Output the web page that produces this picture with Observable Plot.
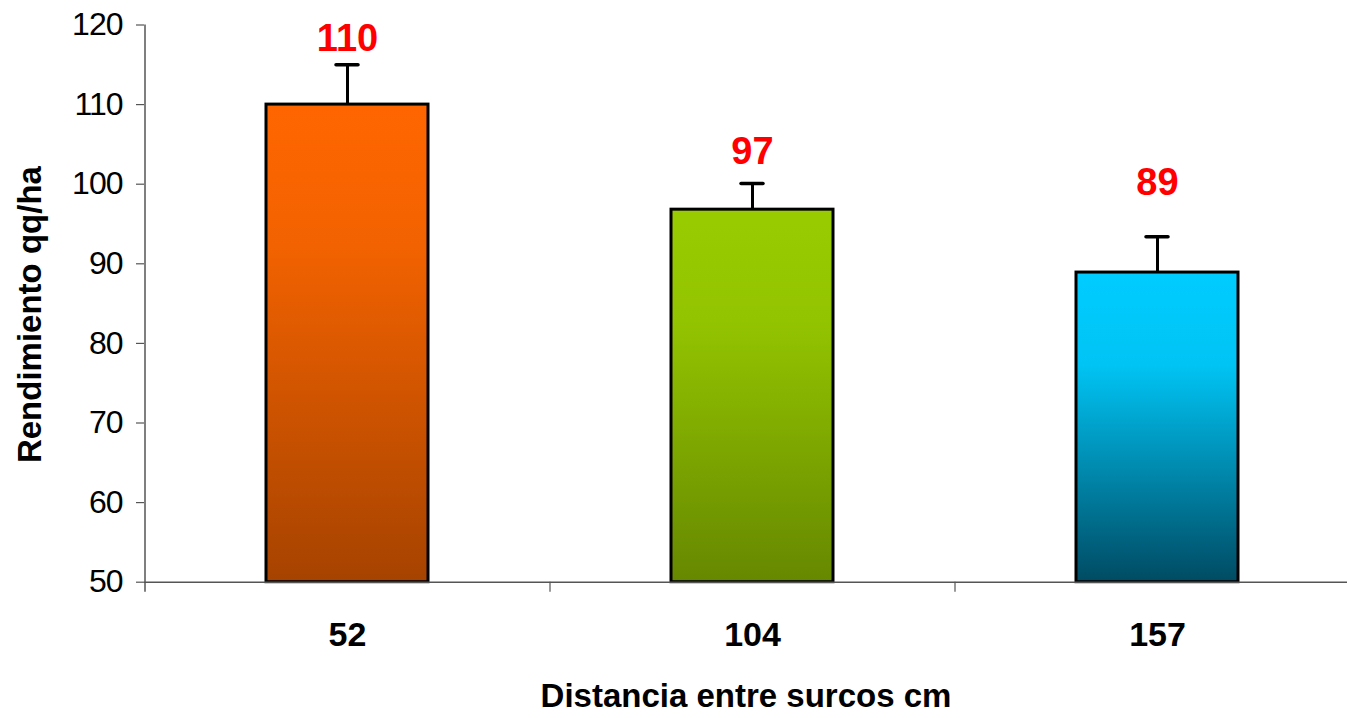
<!DOCTYPE html>
<html>
<head>
<meta charset="utf-8">
<script src="https://cdn.jsdelivr.net/npm/d3@7"></script>
<script src="https://cdn.jsdelivr.net/npm/@observablehq/plot@0.6"></script>
<style>
  html, body { margin: 0; padding: 0; background: #fff; overflow: hidden; }
  g[aria-label="y-axis tick label"] text { letter-spacing: -1px; }
  g[aria-label="value-labels"] text { letter-spacing: -1.5px; }
  g[aria-label="category-labels"] text { letter-spacing: -0.5px; }
</style>
</head>
<body>
<div id="chart"></div>
<script>
// ---- data ----
const categories = ["52", "104", "157"];
const yields = [110, 96.8, 88.9];
const errorTops = [115, 100.1, 93.4];
const valueLabels = ["110", "97", "89"];
const labelY = [116.7, 102.6, 98.6];
const gradientIds = ["gradOrange", "gradGreen", "gradBlue"];
const gradientStops = [
  [[0, "#FF6600"], [0.3, "#F26200"], [1, "#A64300"]],
  [[0, "#99CC00"], [0.3, "#93C400"], [1, "#668800"]],
  [[0, "#00CCFF"], [0.3, "#00C4F4"], [1, "#004B63"]]
];
const yTicks = [50, 60, 70, 80, 90, 100, 110, 120];
const yTitle = "Rendimiento qq/ha";
const xTitle = "Distancia entre surcos cm";

const data = categories.map((c, i) => ({
  cat: c, v: yields[i], e: errorTops[i], label: valueLabels[i], ly: labelY[i],
  fill: `url(#${gradientIds[i]})`
}));

const W = 1347, H = 718;
const mL = 144, mT = 24.5, mB = 136.3;
const xRange = [144, 1359];
const step = (xRange[1] - xRange[0]) / categories.length;
const frameH = H - mT - mB;
const axisColor = "#555";
const font = "'Liberation Sans', Arial, Helvetica, sans-serif";

const plot = Plot.plot({
  width: W, height: H,
  marginLeft: mL, marginRight: 0, marginTop: mT, marginBottom: mB,
  style: { fontFamily: font, background: "#fff", color: "#000", overflow: "visible" },
  x: { domain: categories, range: xRange, paddingInner: 0.6, paddingOuter: 0.3, axis: null },
  y: { domain: [yTicks[0], yTicks[yTicks.length - 1]], axis: null },
  color: { type: "identity" },
  marks: [
    Plot.barY(data, { x: "cat", y1: yTicks[0], y2: "v", fill: "fill", stroke: "#000", strokeWidth: 3 }),
    Plot.ruleX(data, { x: "cat", y1: "v", y2: "e", stroke: "#000", strokeWidth: 3 }),
    Plot.tickY(data, { x: "cat", y: "e", stroke: "#000", strokeWidth: 3.5, strokeLinecap: "round", insetLeft: 70, insetRight: 70 }),
    Plot.ruleY([yTicks[0]], { stroke: axisColor, strokeWidth: 1.5 }),
    // y axis line (first category boundary), extends slightly below the x axis
    Plot.ruleX([categories[0]], { x: d => d, dx: -step / 2, insetBottom: -10, stroke: axisColor, strokeWidth: 1.5 }),
    // category boundary ticks below the x axis
    Plot.ruleX(categories.slice(1), { x: d => d, dx: -step / 2, insetTop: frameH, insetBottom: -10, stroke: axisColor, strokeWidth: 1.2 }),
    Plot.axisY({ ticks: yTicks, tickSize: 8, tickPadding: 14, fontSize: 32, stroke: axisColor, fill: "#000", strokeWidth: 1.2 }),
    Plot.text(categories, { x: d => d, text: d => d, frameAnchor: "bottom", lineAnchor: "bottom", dy: 63.3,
      fontSize: 34, fontWeight: "bold", fill: "#000", ariaLabel: "category-labels" }),
    Plot.text(data, { x: "cat", y: "ly", text: "label", lineAnchor: "bottom",
      fontSize: 38, fontWeight: "bold", fill: "#FF0000", ariaLabel: "value-labels" }),
    Plot.text([xTitle], { text: d => d, frameAnchor: "bottom", textAnchor: "middle", lineAnchor: "bottom", dy: 124.3,
      fontSize: 33, fontWeight: "bold", fill: "#000" }),
    Plot.text([yTitle], { text: d => d, frameAnchor: "left", textAnchor: "middle", rotate: -90, lineAnchor: "bottom", dx: -104, dy: 11,
      fontSize: 33, fontWeight: "bold", fill: "#000" })
  ]
});

// gradients for the bars
const svg = d3.select(plot);
const defs = svg.insert("defs", ":first-child");
gradientIds.forEach((id, i) => {
  const g = defs.append("linearGradient").attr("id", id)
    .attr("x1", 0).attr("y1", 0).attr("x2", 0).attr("y2", 1);
  gradientStops[i].forEach(([o, c]) => g.append("stop").attr("offset", o).attr("stop-color", c));
});

document.getElementById("chart").appendChild(plot);
</script>
</body>
</html>
